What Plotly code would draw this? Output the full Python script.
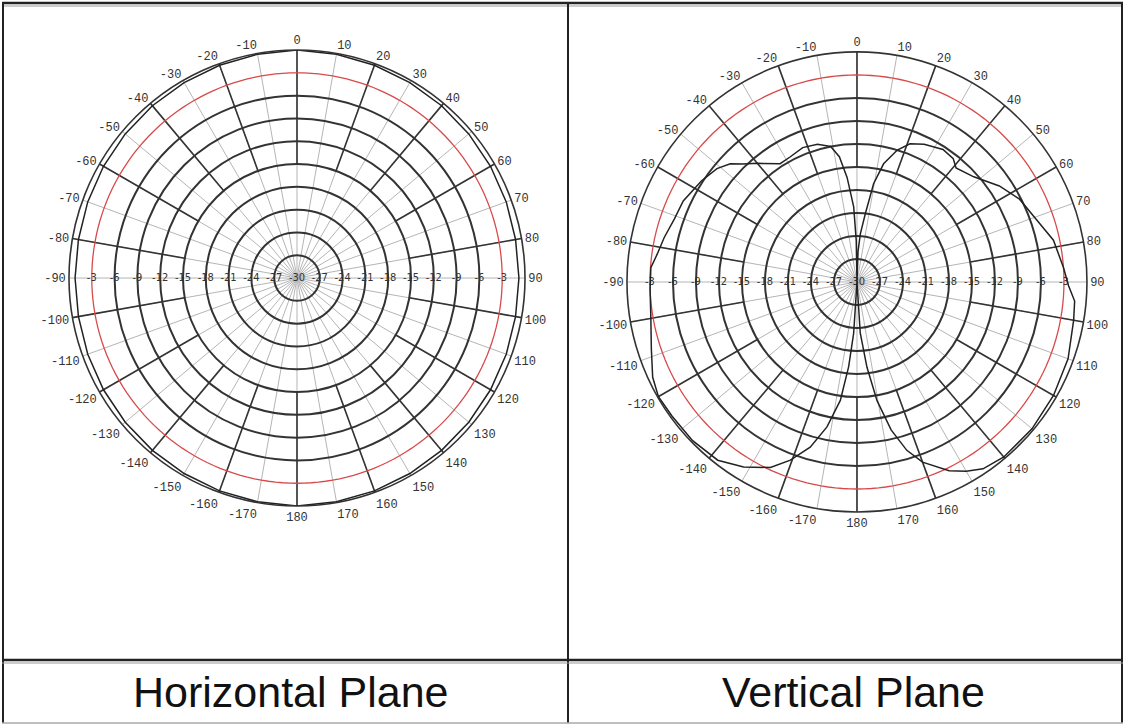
import plotly.graph_objects as go

# ---------------- data ----------------
ring_db = [-27, -24, -21, -18, -15, -12, -9, -6, -3]
ring_labels = ["-27", "-24", "-21", "-18", "-15", "-12", "-9", "-6", "-3"]
center_label = "-30"

angle_ticks = list(range(0, 360, 10))
angle_labels = [str(a) if a <= 180 else str(a - 360) for a in angle_ticks]

# Horizontal plane pattern (dB) vs angle (deg, clockwise from top)
h_theta = [0, 10, 20, 30, 40, 50, 60, 70, 80, 90, 100, 110, 120, 130, 140, 150, 160, 170, 180,
           -170, -160, -150, -140, -130, -120, -110, -100, -90, -80, -70, -60, -50, -40, -30, -20, -10, 0]
h_gain = [0.0, -0.1, -0.2, -0.3, -0.4, -0.5, -0.6, -0.7, -0.8, -0.8, -0.8, -0.7, -0.6, -0.5, -0.4, -0.3, -0.2, -0.1, 0.0,
          -0.1, -0.2, -0.3, -0.4, -0.5, -0.6, -0.7, -0.8, -0.8, -0.8, -0.7, -0.6, -0.5, -0.4, -0.3, -0.2, -0.1, 0.0]

# Vertical plane pattern (dB) vs angle (deg, clockwise from top)
v_theta = [0, 2, 4, 7, 9.6, 12.7, 17, 21, 26, 33, 38, 41, 48, 56, 63, 71, 78, 86, 91, 95, 100,
           110, 120, 130, 140, 146, 150, 154, 160, 163.5, 167, 170.4, 173.3, 176.3, 180,
           -176.3, -174.4, -172, -168.3, -164.2, -159.5, -155, -148.5, -142, -134, -126, -120,
           -115, -108, -100, -92, -86, -82, -77, -71, -65, -57, -51, -47, -44, -40, -33, -28,
           -22, -16, -11, -8, -5.4, -2.5, -1, 0]
v_gain = [-30, -26, -23.7, -21.0, -17.0, -14.2, -12.0, -10.7, -10.0, -9.4, -9.6, -10.3, -9.5, -7.6, -6.2, -5.2, -3.8, -3.0, -2.4, -1.5, -1.3,
          -0.7, -0.4, -0.2, -0.2, -0.6, -1.5, -2.6, -5.0, -7.1, -10.2, -14.3, -18.8, -23.3, -30,
          -23.3, -18.9, -14.4, -10.7, -7.6, -5.2, -3.3, -1.7, -0.5, -0.2, -0.2, -0.1,
          -0.6, -1.8, -2.7, -3.0, -3.05, -3.7, -4.2, -4.8, -5.0, -5.8, -6.5, -7.4, -8.6, -9.8, -11.6, -11.5,
          -11.1, -11.3, -12.0, -13.5, -16.3, -20.2, -24.6, -30]

titles = ["Horizontal Plane", "Vertical Plane"]

# ---------------- figure ----------------
fig = go.Figure()

black_spoke_angles = list(range(0, 360, 20))
spoke_r, spoke_t = [], []
for a in black_spoke_angles:
    spoke_r += [-15, 0, None]
    spoke_t += [a, a, None]

circle_t = [i * 2 for i in range(181)]

def add_plot(sub, theta, gain):
    # black spokes every 20 deg (outer part)
    fig.add_trace(go.Scatterpolar(r=spoke_r, theta=spoke_t, mode="lines",
                                  line=dict(color="#333333", width=1.6),
                                  hoverinfo="skip", showlegend=False, subplot=sub))
    # red -3 dB circle
    fig.add_trace(go.Scatterpolar(r=[-3] * len(circle_t), theta=circle_t, mode="lines",
                                  line=dict(color="#d84a4a", width=1.3),
                                  hoverinfo="skip", showlegend=False, subplot=sub))
    # radial labels along the 90 / -90 line
    fig.add_trace(go.Scatterpolar(r=ring_db + [-30] + ring_db,
                                  theta=[270] * len(ring_db) + [0] + [90] * len(ring_db),
                                  mode="text", text=ring_labels + [center_label] + ring_labels,
                                  textfont=dict(family="DejaVu Sans Condensed, Arial", size=11, color="#333333"),
                                  hoverinfo="skip", showlegend=False, subplot=sub))
    # pattern
    fig.add_trace(go.Scatterpolar(r=gain, theta=theta, mode="lines",
                                  line=dict(color="#222222", width=1.5),
                                  hoverinfo="skip", showlegend=False, subplot=sub))

add_plot("polar", h_theta, h_gain)
add_plot("polar2", v_theta, v_gain)

def polar_layout(domx, domy):
    return dict(
        domain=dict(x=domx, y=domy),
        bgcolor="white",
        radialaxis=dict(range=[-30, 0], tickvals=[-27, -24, -21, -18, -15, -12, -9, -6],
                        showticklabels=False, ticks="", showline=False,
                        gridcolor="#333333", gridwidth=1.6, angle=90),
        angularaxis=dict(rotation=90, direction="clockwise",
                         tickvals=angle_ticks, ticktext=angle_labels, ticks="",
                         tickfont=dict(family="Liberation Mono, Courier New", size=12, color="#333333"),
                         gridcolor="#b5b5b5", gridwidth=1,
                         showline=True, linecolor="#333333", linewidth=1.6),
    )

fig.update_layout(
    width=1125, height=725,
    margin=dict(l=0, r=0, t=0, b=0),
    paper_bgcolor="white", plot_bgcolor="white",
    polar=polar_layout([0.0613, 0.4667], [0.302, 0.931]),
    polar2=polar_layout([0.5573, 0.9662], [0.2938, 0.9283]),
    showlegend=False,
)

# frame
W, H = 1125, 725
def px(x): return x / W
def py(y): return 1 - y / H

shapes = [
    dict(type="line", x0=px(2), x1=px(1123), y0=py(3), y1=py(3), line=dict(color="#222222", width=2.5)),
    dict(type="line", x0=px(2), x1=px(1123), y0=py(6), y1=py(6), line=dict(color="#999999", width=1)),
    dict(type="line", x0=px(3), x1=px(3), y0=py(3), y1=py(723), line=dict(color="#222222", width=2)),
    dict(type="line", x0=px(1122), x1=px(1122), y0=py(3), y1=py(723), line=dict(color="#222222", width=2)),
    dict(type="line", x0=px(568), x1=px(568), y0=py(3), y1=py(723), line=dict(color="#222222", width=2)),
    dict(type="line", x0=px(2), x1=px(1123), y0=py(660), y1=py(660), line=dict(color="#222222", width=2.5)),
    dict(type="line", x0=px(2), x1=px(1123), y0=py(663), y1=py(663), line=dict(color="#999999", width=1)),
    dict(type="line", x0=px(2), x1=px(1123), y0=py(723), y1=py(723), line=dict(color="#aaaaaa", width=1.5)),
]
fig.update_layout(shapes=shapes)

for t, cx in zip(titles, [291, 853]):
    fig.add_annotation(x=px(cx), y=py(692), xref="paper", yref="paper", text=t, showarrow=False,
                       font=dict(family="Liberation Sans, Arial", size=43, color="#111111"),
                       xanchor="center", yanchor="middle")

fig.write_html("out.html", config={"displayModeBar": False},
               post_script="document.body.style.margin='0';document.body.style.overflow='hidden';")
